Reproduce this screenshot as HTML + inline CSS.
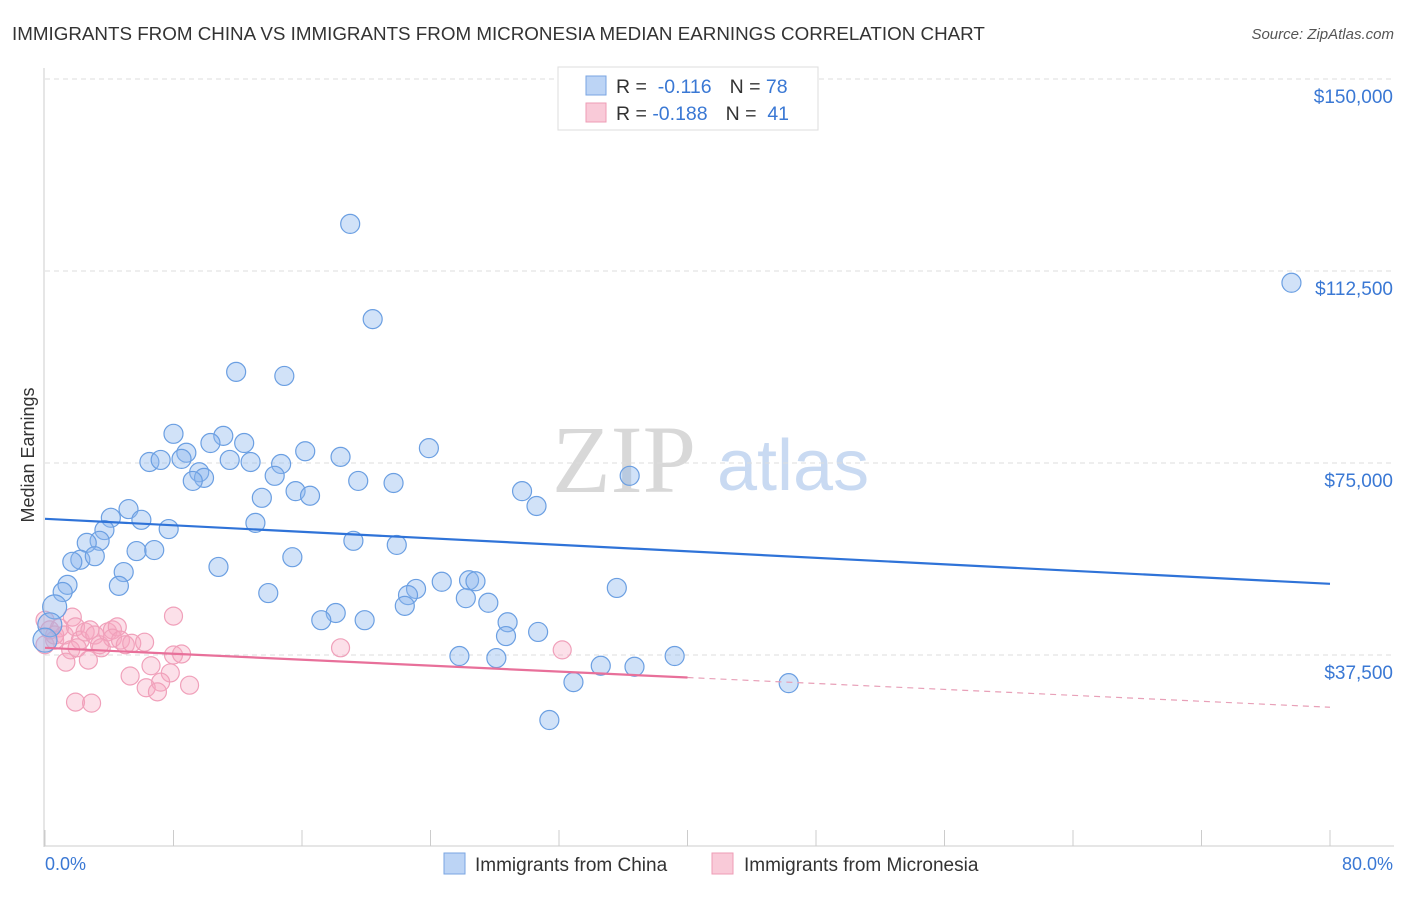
<!DOCTYPE html>
<html><head><meta charset="utf-8"><style>
body{margin:0;background:#fff;font-family:"Liberation Sans",sans-serif;}
</style></head><body>
<svg width="1406" height="892" xmlns="http://www.w3.org/2000/svg" id="chart">
<text x="12" y="40" font-size="18.8" fill="#333">IMMIGRANTS FROM CHINA VS IMMIGRANTS FROM MICRONESIA MEDIAN EARNINGS CORRELATION CHART</text>
<text x="1394" y="39" font-size="15" fill="#555" font-style="italic" text-anchor="end">Source: ZipAtlas.com</text>
<text x="34" y="455" font-size="18" fill="#333" text-anchor="middle" transform="rotate(-90 34 455)">Median Earnings</text>
<g>
<text x="552" y="492" font-size="96" fill="#d8d8d8" font-family="Liberation Serif,serif">ZIP</text>
<text x="717" y="490" font-size="72" fill="#c9daf2">atlas</text>
</g>
<g id="grid"></g><g id="pts"></g><g id="lines"></g>
<g>
<rect x="558" y="67" width="260" height="63" fill="#fff" stroke="#ddd"/>
<rect x="586" y="76" width="20" height="19" fill="#bcd4f5" stroke="#7aa5e2"/>
<rect x="586" y="103" width="20" height="19" fill="#f9cad8" stroke="#ee9cb6"/>
<text x="616" y="93" font-size="19.5" fill="#333">R = <tspan fill="#3a78d4">&#160;-0.116</tspan><tspan dx="18">N = </tspan><tspan fill="#3a78d4">78</tspan></text>
<text x="616" y="120" font-size="19.5" fill="#333">R = <tspan fill="#3a78d4">-0.188</tspan><tspan dx="18">N = </tspan><tspan fill="#3a78d4">&#160;41</tspan></text>
</g>
<text x="45" y="870" font-size="18" fill="#3a78d4">0.0%</text>
<text x="1393" y="870" font-size="18" fill="#3a78d4" text-anchor="end">80.0%</text>
<g>
<rect x="444" y="853" width="21" height="21" fill="#bcd4f5" stroke="#7aa5e2"/>
<text x="475" y="871" font-size="19" fill="#333">Immigrants from China</text>
<rect x="712" y="853" width="21" height="21" fill="#f9cad8" stroke="#ee9cb6"/>
<text x="744" y="871" font-size="19" fill="#333">Immigrants from Micronesia</text>
</g>
</svg>
<script>
const yTicks=[37500,75000,112500,150000];
const yTickLabels=["$37,500","$75,000","$112,500","$150,000"];
const xTicks=[0,8,16,24,32,40,48,56,64,72,80];
const chinaX=[19.0,20.4,77.6,11.9,14.9,8.0,11.1,10.3,12.4,8.8,16.2,23.9,6.5,7.2,8.5,11.5,12.8,14.7,18.4,9.6,9.9,9.2,14.3,19.5,21.7,36.4,13.5,15.6,16.5,29.7,30.6,5.2,4.1,6.0,7.7,13.1,3.7,3.4,2.6,5.7,6.8,19.2,21.9,2.2,1.7,3.1,15.4,4.9,10.8,4.6,1.4,1.1,0.6,24.7,26.4,26.8,23.1,22.6,22.4,26.2,35.6,27.6,13.9,18.1,17.2,19.9,28.8,28.7,30.7,25.8,28.1,39.2,34.6,36.7,32.9,46.3,31.4,0.3,0.0];
const chinaY=[121.7,103.1,110.2,92.8,92.0,80.7,80.3,78.9,78.9,77.0,77.3,77.9,75.2,75.6,75.8,75.6,75.2,74.8,76.2,73.2,72.1,71.5,72.5,71.5,71.1,72.5,68.2,69.5,68.6,69.5,66.6,66.0,64.3,63.9,62.1,63.3,61.9,59.8,59.4,57.8,58.0,59.8,59.0,56.1,55.7,56.8,56.6,53.7,54.7,51.0,51.2,49.8,46.9,51.8,52.1,51.9,50.4,49.2,47.1,48.6,50.6,47.7,49.6,45.7,44.3,44.3,43.9,41.2,42.0,37.3,36.9,37.3,35.4,35.2,32.2,32.0,24.8,43.4,40.4];
const micX=[0.0,0.3,0.6,0.9,1.2,1.7,1.9,2.2,2.5,2.8,3.1,3.4,3.9,4.2,4.5,4.2,4.7,5.0,5.4,6.2,1.6,1.3,2.0,2.7,3.5,8.0,8.0,8.5,6.6,5.3,7.8,6.3,7.2,7.0,9.0,1.9,2.9,18.4,32.2,0.0,0.6];
const micY=[44.3,42.4,40.4,42.8,41.4,44.9,43.0,40.4,42.0,42.4,41.4,39.5,42.0,42.4,43.0,40.8,40.4,39.5,39.8,40.0,38.5,36.1,38.9,36.5,38.9,45.1,37.5,37.7,35.4,33.4,34.0,31.1,32.2,30.3,31.6,28.3,28.1,38.9,38.5,39.5,41.4];
const chinaTrend=[64.1,51.4];
const micTrend=[38.9,27.3];
const micSolidEnd=40;
const NS="http://www.w3.org/2000/svg";
function sx(p){return 45+p*(1330-45)/80;}
function sy(v){return 847-v*768/150000;}
function mk(t,a,parent){const e=document.createElementNS(NS,t);for(const k in a)e.setAttribute(k,a[k]);parent.appendChild(e);return e;}
const grid=document.getElementById('grid');
let ax=mk('line',{x1:44,y1:68,x2:44,y2:847,stroke:'#ccc'},grid);


let bx=mk('line',{x1:44,y1:846,x2:1394,y2:846,stroke:'#ccc'},grid);


yTicks.forEach((v,i)=>{
 const g=mk('line',{x1:45,y1:sy(v),x2:1394,y2:sy(v),stroke:'#ddd','stroke-dasharray':'5,4'},grid);
 
 
 const t=mk('text',{x:1393,y:sy(v)+24,'font-size':19,fill:'#3a78d4','text-anchor':'end'},grid);
 t.textContent=yTickLabels[i];
 
 
});
xTicks.forEach(p=>{
 const l=mk('line',{x1:sx(p),y1:830,x2:sx(p),y2:846,stroke:'#ccc'},grid);
 
 
});
const pts=document.getElementById('pts');
micX.forEach((x,i)=>{
 const c=mk('circle',{cx:sx(x),cy:sy(micY[i]*1000),r:9,fill:'rgba(245,165,192,0.35)',stroke:'#f0a0ba','stroke-width':1.2},pts);
 
 
});
chinaX.forEach((x,i)=>{
 const big=(i>=chinaX.length-2||i==52);
 const c=mk('circle',{cx:sx(x),cy:sy(chinaY[i]*1000),r:big?12:9.5,fill:'rgba(140,182,238,0.4)',stroke:'#6b9fe2','stroke-width':1.2},pts);
 
 
});
const lines=document.getElementById('lines');
let l1=mk('line',{x1:sx(0),y1:sy(chinaTrend[0]*1000),x2:sx(80),y2:sy(chinaTrend[1]*1000),stroke:'#2f73d8','stroke-width':2.2},lines);


const mMid=micTrend[0]+(micTrend[1]-micTrend[0])*micSolidEnd/80;
let l2=mk('line',{x1:sx(0),y1:sy(micTrend[0]*1000),x2:sx(micSolidEnd),y2:sy(mMid*1000),stroke:'#e8709a','stroke-width':2.2},lines);


let l3=mk('line',{x1:sx(micSolidEnd),y1:sy(mMid*1000),x2:sx(80),y2:sy(micTrend[1]*1000),stroke:'#e8a0b8','stroke-width':1.2,'stroke-dasharray':'6,5'},lines);


</script>
</body></html>
